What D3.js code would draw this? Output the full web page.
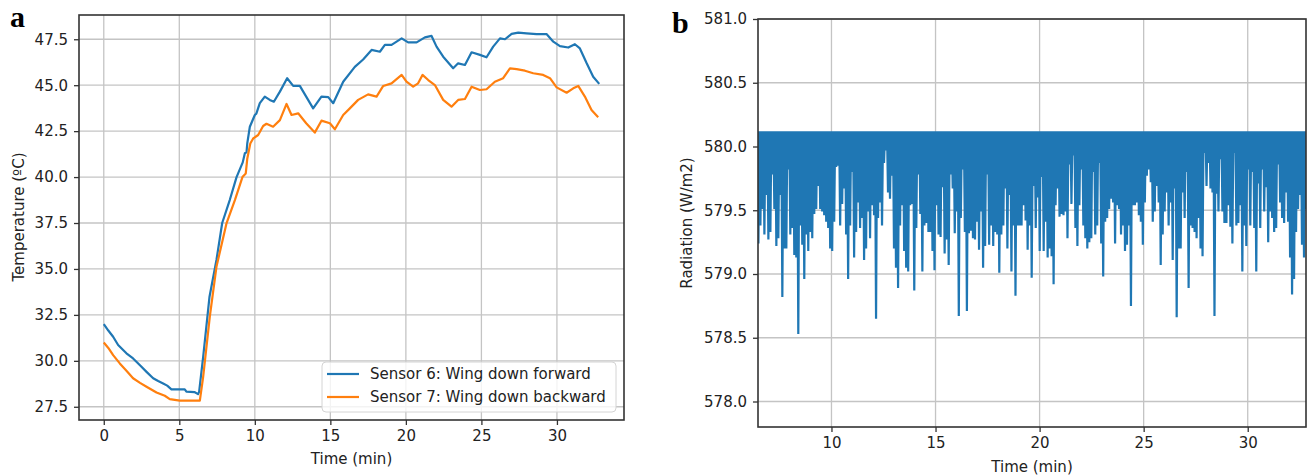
<!DOCTYPE html>
<html>
<head>
<meta charset="utf-8">
<script src="https://cdn.jsdelivr.net/npm/d3@7"></script>
<style>
body { margin: 0; background: #fff; }
text { font-family: "DejaVu Sans", sans-serif; }
</style>
</head>
<body>
<svg id="fig" width="1309" height="476"></svg>
<script>
// panel a - temperature of the two wing sensors
let s6Time = [0, 0.3, 0.62, 0.95, 1.5, 1.94, 2.38, 2.83, 3.27, 3.6, 3.93, 4.2, 4.48, 5.36, 5.47, 6.0, 6.24, 6.31,
	6.58, 7.0, 7.46, 7.84, 8.34, 8.79, 9.2, 9.34, 9.45, 9.5, 9.67, 10.0, 10.1, 10.33, 10.66, 10.99, 11.26, 11.66,
	12.14, 12.54, 12.98, 13.4, 13.86, 14.41, 14.86, 15.19, 15.85, 16.62, 17.17, 17.73, 18.28, 18.61, 19.05, 19.72,
	20.15, 20.71, 21.26, 21.7, 22.03, 22.47, 23.13, 23.46, 23.91, 24.35, 24.9, 25.34, 25.78, 26.23, 26.56, 27.0,
	27.44, 27.99, 28.65, 29.31, 29.76, 30.2, 30.75, 31.19, 31.52, 31.97, 32.4, 32.8];
let s6Temp = [32.0, 31.65, 31.31, 30.86, 30.41, 30.13, 29.77, 29.4, 29.05, 28.9, 28.77, 28.65, 28.45, 28.45, 28.32, 28.3, 28.19, 28.3,
	30.22, 33.49, 35.49, 37.5, 38.75, 40.0, 40.8, 41.3, 41.35, 41.83, 42.74, 43.38, 43.45, 44.02, 44.38, 44.2, 44.1, 44.65,
	45.38, 44.96, 44.96, 44.38, 43.74, 44.38, 44.35, 44.02, 45.19, 46.0, 46.4, 46.92, 46.82, 47.19, 47.19, 47.55,
	47.33, 47.33, 47.6, 47.68, 47.1, 46.55, 45.92, 46.19, 46.1, 46.79, 46.65, 46.52, 47.1, 47.55, 47.5, 47.79,
	47.86, 47.82, 47.78, 47.78, 47.37, 47.13, 47.05, 47.23, 47.0, 46.19, 45.46, 45.07];

let s7Time = [0, 0.3, 0.62, 1.06, 1.5, 1.94, 2.4, 2.83, 3.49, 4.04, 4.37, 5.03, 6.36, 6.58, 7.02, 7.46, 8.13, 8.68,
	9.18, 9.4, 9.5, 9.7, 9.89, 10.22, 10.55, 10.77, 11.21, 11.66, 12.1, 12.43, 12.87, 13.4, 13.97, 14.41, 14.97,
	15.3, 15.85, 16.29, 16.84, 17.5, 18.06, 18.5, 19.05, 19.72, 20.04, 20.48, 20.81, 21.1, 21.48, 21.92, 22.47,
	23.02, 23.46, 23.91, 24.35, 24.9, 25.34, 25.89, 26.44, 26.89, 27.33, 27.88, 28.43, 29.09, 29.54, 29.98, 30.64,
	31.08, 31.41, 31.85, 32.29, 32.73];
let s7Temp = [31.0, 30.7, 30.31, 29.86, 29.46, 29.05, 28.8, 28.59, 28.28, 28.1, 27.92, 27.83, 27.83, 29.13, 32.4, 35.12, 37.5, 38.75,
	40.0, 40.2, 41.0, 41.83, 42.1, 42.29, 42.78, 42.9, 42.74, 43.1, 43.98, 43.38, 43.47, 42.93, 42.42, 43.07, 42.93,
	42.6, 43.38, 43.74, 44.2, 44.5, 44.38, 44.96, 45.1, 45.56, 45.19, 44.92, 45.1, 45.56, 45.28, 45.01, 44.2,
	43.83, 44.2, 44.25, 44.92, 44.74, 44.78, 45.19, 45.38, 45.92, 45.87, 45.79, 45.65, 45.56, 45.38, 44.88, 44.59,
	44.83, 44.96, 44.38, 43.65, 43.26];

let tempTicks = [27.5, 30.0, 32.5, 35.0, 37.5, 40.0, 42.5, 45.0, 47.5];
let timeTicksA = [0, 5, 10, 15, 20, 25, 30];
let legendNames = ['Sensor 6: Wing down forward', 'Sensor 7: Wing down backward'];

// panel b - radiation. top level of the signal, then the bottom of each spike, read in four stretches
let radTop = 580.12;
let radSpanA = [6.49, 13.1];
let radLowA = [579.24, 579.38, 579.51, 579.31, 579.62, 579.27, 579.33, 579.78, 579.51, 579.22, 579.28, 579.62, 578.82, 579.20,
	579.20, 579.82, 579.31, 579.36, 579.15, 579.13, 578.53, 579.38, 579.23, 578.96, 579.31, 579.18, 579.33, 579.28,
	579.47, 579.51, 579.69, 579.51, 579.49, 579.46, 579.41, 579.36, 579.20, 579.18, 579.41, 579.84, 579.85, 579.38,
	579.55, 579.67, 579.31, 578.96, 579.38, 579.80, 579.13, 579.33, 579.56, 579.36, 579.44, 579.11, 579.20, 579.49,
	579.28, 579.54, 579.46, 578.65, 579.44, 579.56, 579.38, 579.87, 579.97, 579.64, 579.59, 579.77, 579.20, 579.05];
let radSpanB = [13.2, 19.62];
let radLowB = [578.89, 579.38, 579.54, 579.18, 579.05, 579.02, 579.54, 579.55, 578.87, 579.36, 579.78, 579.47, 579.02, 579.38,
	579.40, 579.33, 579.33, 579.18, 579.03, 579.54, 579.31, 579.29, 579.68, 579.16, 579.27, 579.07, 579.78, 579.67,
	579.32, 579.49, 578.67, 579.44, 579.82, 579.33, 578.71, 579.32, 579.34, 579.28, 579.27, 579.41, 579.19, 579.49,
	579.05, 579.22, 579.78, 579.23, 579.38, 579.22, 579.33, 579.31, 579.01, 579.31, 579.38, 579.67, 579.20, 579.62,
	579.02, 579.38, 578.83, 579.38, 579.38, 579.38, 579.54, 579.42, 579.19, 579.38, 578.97];
let radSpanC = [19.72, 26.2];
let radLowC = [579.69, 579.36, 579.60, 579.18, 579.76, 579.18, 579.41, 579.13, 579.20, 579.14, 578.92, 579.54, 579.67, 579.45,
	579.47, 579.46, 579.49, 579.28, 579.86, 579.55, 579.93, 579.36, 579.22, 579.54, 579.82, 579.38, 579.28, 579.20,
	579.25, 579.28, 579.80, 579.31, 579.38, 579.87, 579.24, 578.98, 579.41, 579.44, 579.51, 579.59, 579.56, 579.24,
	579.54, 579.51, 579.31, 579.38, 579.18, 579.23, 579.38, 578.75, 579.54, 579.54, 579.56, 579.46, 579.41, 579.23,
	579.56, 579.77, 579.82, 579.72, 579.41, 579.49, 579.69, 579.56, 579.07, 579.31, 579.49, 579.64, 579.38];
let radSpanD = [26.3, 32.8];
let radLowD = [579.56, 579.11, 579.67, 578.66, 579.20, 579.20, 579.64, 579.44, 579.80, 578.89, 579.38, 579.36, 579.33, 579.28,
	579.44, 579.20, 579.14, 579.95, 579.69, 579.87, 579.67, 579.64, 578.67, 579.63, 579.49, 579.90, 579.49, 579.40,
	579.40, 579.54, 579.37, 579.24, 579.95, 579.38, 579.40, 579.54, 579.02, 579.38, 579.22, 579.82, 579.38, 579.80,
	579.36, 579.02, 579.71, 579.36, 579.82, 579.49, 579.68, 579.25, 579.49, 579.44, 579.33, 579.36, 579.86, 579.56,
	579.44, 579.40, 579.64, 579.41, 579.13, 578.84, 578.96, 579.33, 579.51, 579.62, 579.23, 579.13, 579.51];
let radTicks = [578.0, 578.5, 579.0, 579.5, 580.0, 580.5, 581.0];
let timeTicksB = [10, 15, 20, 25, 30];

let blue = '#1f77b4';
let orange = '#ff7f0e';
let fs = 15;

let svg = d3.select('#fig');

// grid and clip area shared by both panels
function frame(g, x, y, xTicks, yTicks, id) {
	let [x0, x1] = x.range();
	let [y0, y1] = y.range();

	g.append('g')
		.selectAll('line')
		.data(xTicks)
		.enter()
		.append('line')
		.attr('x1', d => x(d)).attr('x2', d => x(d))
		.attr('y1', y0).attr('y2', y1)
		.style('stroke', '#c4c4c4').style('stroke-width', 1.3);

	g.append('g')
		.selectAll('line')
		.data(yTicks)
		.enter()
		.append('line')
		.attr('x1', x0).attr('x2', x1)
		.attr('y1', d => y(d)).attr('y2', d => y(d))
		.style('stroke', '#c4c4c4').style('stroke-width', 1.3);

	g.append('clipPath').attr('id', id)
		.append('rect')
		.attr('x', x0).attr('y', y1)
		.attr('width', x1 - x0).attr('height', y0 - y1);
}

function axes(g, x, y, xTicks, yTicks) {
	let [x0, x1] = x.range();
	let [y0, y1] = y.range();

	let xa = g.append('g')
		.attr('transform', `translate(0, ${y0})`)
		.call(d3.axisBottom(x).tickValues(xTicks).tickFormat(d3.format('d')).tickSize(5).tickPadding(5));
	let ya = g.append('g')
		.attr('transform', `translate(${x0}, 0)`)
		.call(d3.axisLeft(y).tickValues(yTicks).tickFormat(d3.format('.1f')).tickSize(5).tickPadding(6));

	[xa, ya].forEach(a => {
		a.select('.domain').remove();
		a.selectAll('line').style('stroke', '#333').style('stroke-width', 1.3);
		a.selectAll('text').style('font-size', fs + 'px').style('fill', '#222')
			.style('font-family', '"DejaVu Sans", sans-serif');
	});

	g.append('rect')
		.attr('x', x0).attr('y', y1)
		.attr('width', x1 - x0).attr('height', y0 - y1)
		.style('fill', 'none')
		.style('stroke', '#333')
		.style('stroke-width', 1.6);
}

// ---- panel a ----
let xA = d3.scaleLinear().domain([-1.64, 34.44]).range([79, 624]);
let yA = d3.scaleLinear().domain([26.78, 48.82]).range([420, 15]);
let gA = svg.append('g');
frame(gA, xA, yA, timeTicksA, tempTicks, 'clipA');

let lineA = d3.line().x(d => xA(d[0])).y(d => yA(d[1]));
let series = [
	{ pts: d3.zip(s6Time, s6Temp), color: blue },
	{ pts: d3.zip(s7Time, s7Temp), color: orange }
];
gA.selectAll('path.temp')
	.data(series)
	.enter()
	.append('path')
	.attr('class', 'temp')
	.attr('d', d => lineA(d.pts))
	.attr('clip-path', 'url(#clipA)')
	.style('fill', 'none')
	.style('stroke', d => d.color)
	.style('stroke-width', 2.2)
	.style('stroke-linejoin', 'round');

axes(gA, xA, yA, timeTicksA, tempTicks);

// legend
let leg = gA.append('g').attr('transform', 'translate(322, 362)');
leg.append('rect')
	.attr('width', 294).attr('height', 50).attr('rx', 4)
	.style('fill', '#fff').style('fill-opacity', 0.8)
	.style('stroke', '#d4d4d4').style('stroke-width', 1);
leg.selectAll('line')
	.data(series)
	.enter()
	.append('line')
	.attr('x1', 5).attr('x2', 37)
	.attr('y1', (d, i) => 12 + i * 23).attr('y2', (d, i) => 12 + i * 23)
	.style('stroke', d => d.color).style('stroke-width', 2.2);
leg.selectAll('text')
	.data(legendNames)
	.enter()
	.append('text')
	.attr('x', 48)
	.attr('y', (d, i) => 17 + i * 23)
	.style('font-size', fs + 'px').style('fill', '#222')
	.text(d => d);

gA.append('text')
	.attr('transform', 'translate(24, 217) rotate(-90)')
	.style('text-anchor', 'middle').style('font-size', fs + 'px').style('fill', '#222')
	.text('Temperature (ºC)');
gA.append('text')
	.attr('x', (xA.range()[0] + xA.range()[1]) / 2).attr('y', 464)
	.style('text-anchor', 'middle').style('font-size', fs + 'px').style('fill', '#222')
	.text('Time (min)');
gA.append('text')
	.attr('x', 10).attr('y', 27)
	.style('font-family', '"Liberation Serif", serif').style('font-weight', 'bold').style('font-size', '30px')
	.text('a');

// ---- panel b ----
let xB = d3.scaleLinear().domain([6.47, 32.8]).range([758, 1306]);
let yB = d3.scaleLinear().domain([577.8, 581.0]).range([427, 19]);
let gB = svg.append('g');
frame(gB, xB, yB, timeTicksB, radTicks, 'clipB');

// signal sits at the top level and drops to each spike bottom
function spikes(lows, span) {
	let step = (span[1] - span[0]) / (lows.length - 1);
	let pts = [];
	lows.forEach((v, i) => {
		let t = span[0] + i * step;
		pts.push([t - step / 2, radTop]);
		pts.push([t, v]);
	});
	return pts;
}
let radPts = [].concat(
	spikes(radLowA, radSpanA),
	spikes(radLowB, radSpanB),
	spikes(radLowC, radSpanC),
	spikes(radLowD, radSpanD)
);
radPts.push([32.85, radTop]);

let lineB = d3.line().x(d => xB(d[0])).y(d => yB(d[1]));
gB.append('path')
	.attr('d', lineB(radPts))
	.attr('clip-path', 'url(#clipB)')
	.style('fill', 'none')
	.style('stroke', blue)
	.style('stroke-width', 2.2);

axes(gB, xB, yB, timeTicksB, radTicks);

gB.append('text')
	.attr('transform', 'translate(692, 223) rotate(-90)')
	.style('text-anchor', 'middle').style('font-size', fs + 'px').style('fill', '#222')
	.text('Radiation (W/m2)');
gB.append('text')
	.attr('x', 1032).attr('y', 472)
	.style('text-anchor', 'middle').style('font-size', fs + 'px').style('fill', '#222')
	.text('Time (min)');
gB.append('text')
	.attr('x', 672).attr('y', 33)
	.style('font-family', '"Liberation Serif", serif').style('font-weight', 'bold').style('font-size', '30px')
	.text('b');
</script>
</body>
</html>
